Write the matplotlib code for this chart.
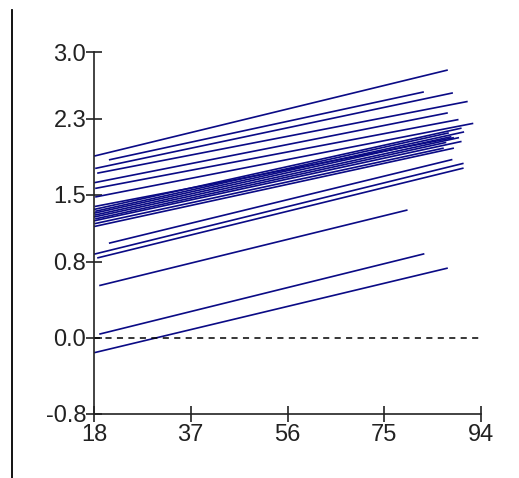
import numpy as np
import matplotlib.pyplot as plt
from matplotlib.lines import Line2D

# each line: start age, end age, value at start, value at end
x_start = [18.2, 21.1, 18.4, 18.8, 18.2, 18.4, 18.4,
           18.3, 18.2, 18.4, 18.2, 18.3, 18.2, 18.4, 18.2, 18.3, 18.2,
           21.1, 18.2, 18.8, 19.2, 19.2, 18.2]
x_end = [87.3, 82.6, 88.3, 91.2, 87.3, 89.4, 92.3,
         88.5, 90.0, 87.5, 90.5, 88.0, 89.5, 87.0, 90.0, 86.5, 88.5,
         88.2, 90.4, 90.4, 79.4, 82.7, 87.3]
y_start = [1.91, 1.87, 1.78, 1.73, 1.63, 1.57, 1.48,
           1.38, 1.35, 1.33, 1.31, 1.29, 1.27, 1.25, 1.23, 1.20, 1.17,
           0.995, 0.88, 0.84, 0.55, 0.04, -0.155]
y_end = [2.81, 2.58, 2.57, 2.48, 2.36, 2.29, 2.25,
         2.10, 2.20, 2.15, 2.16, 2.11, 2.10, 2.05, 2.06, 1.99, 1.99,
         1.87, 1.83, 1.78, 1.34, 0.88, 0.73]

xticks = [18, 37, 56, 75, 94]
yticks = [3.0, 2.3, 1.5, 0.8, 0.0, -0.8]
ytick_labels = ['3.0', '2.3', '1.5', '0.8', '0.0', '-0.8']

plt.rcParams['font.family'] = ['Liberation Sans', 'DejaVu Sans']

fig = plt.figure(figsize=(5.19, 4.78), dpi=100)
ax = fig.add_axes([0.181, 0.134, 0.746, 0.757])

for i in range(len(x_start)):
    ax.plot([x_start[i], x_end[i]], [y_start[i], y_end[i]], color='#0a0a85', lw=1.2)

ax.plot([18, 94], [0, 0], color='black', lw=1.1, ls=(0, (4, 3.5)))

ax.set_xlim(18, 94)
ax.set_ylim(-0.8, 3.0)
ax.set_xticks(xticks)
ax.set_xticklabels([str(t) for t in xticks])
ax.set_yticks(yticks)
ax.set_yticklabels(ytick_labels)
ax.spines['top'].set_visible(False)
ax.spines['right'].set_visible(False)
for s in ['left', 'bottom']:
    ax.spines[s].set_color('#222222')
    ax.spines[s].set_linewidth(1.2)
ax.tick_params(axis='both', direction='inout', length=11, width=1.2,
               colors='#222222', labelsize=17)
ax.tick_params(axis='x', pad=2)
ax.tick_params(axis='y', pad=0)

fig.add_artist(Line2D([12 / 519, 12 / 519], [0, 1 - 10 / 478], color='black', lw=1.3))

fig.savefig('out.png', dpi=100)
